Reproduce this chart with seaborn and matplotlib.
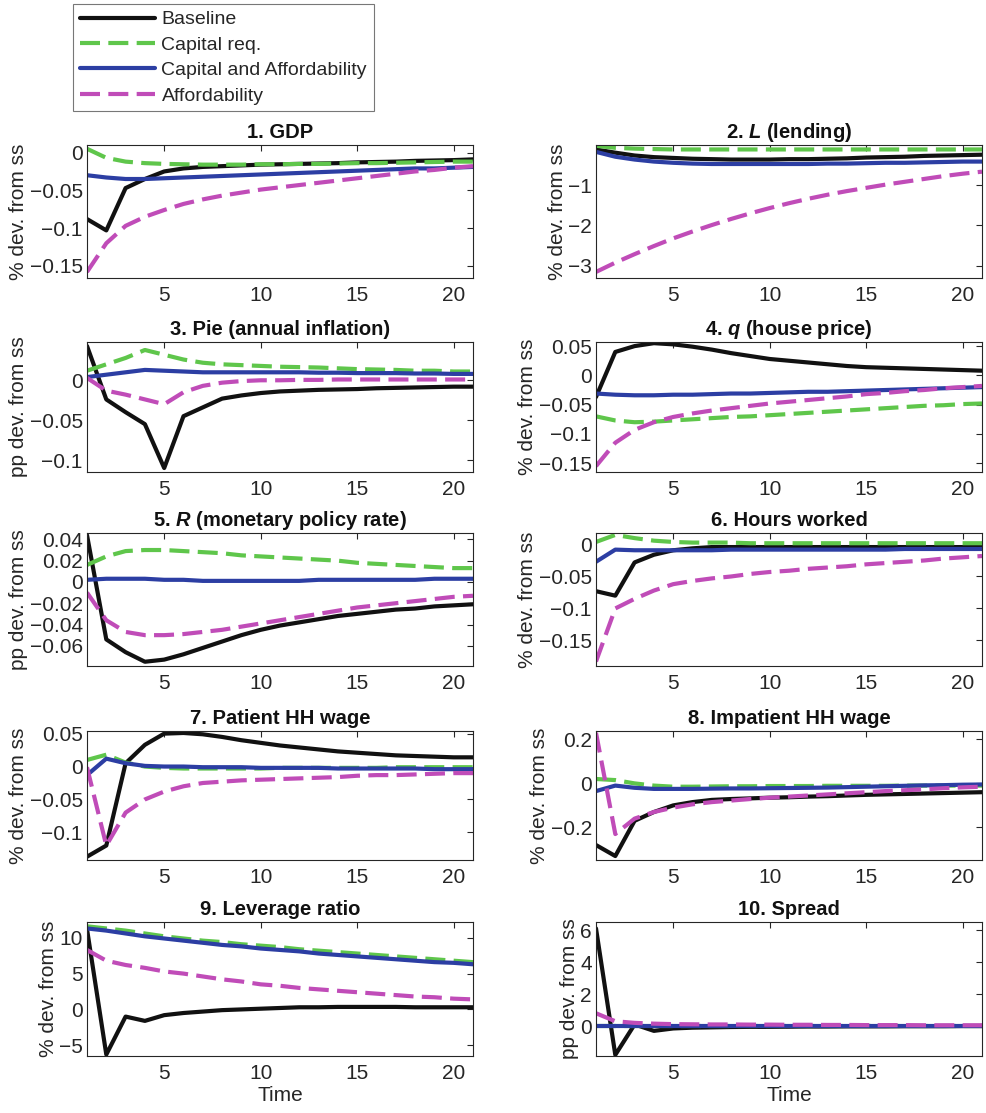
import numpy as np
import pandas as pd
import seaborn as sns
import matplotlib
matplotlib.use("Agg")
import matplotlib.pyplot as plt
from matplotlib.ticker import FuncFormatter, FixedLocator

# ---------------- data ----------------
time = list(range(1, 22))
series_names = ["Baseline", "Capital req.", "Capital and Affordability", "Affordability"]

gdp_base = [-0.088, -0.103, -0.047, -0.035, -0.025, -0.021, -0.019, -0.018, -0.017, -0.016, -0.0155, -0.015, -0.0145, -0.014, -0.013, -0.0125, -0.012, -0.011, -0.0105, -0.010, -0.009]
gdp_cap = [0.005, -0.007, -0.012, -0.014, -0.015, -0.0155, -0.016, -0.016, -0.016, -0.0155, -0.0155, -0.015, -0.015, -0.0145, -0.014, -0.014, -0.0135, -0.013, -0.0125, -0.012, -0.012]
gdp_capaff = [-0.030, -0.033, -0.035, -0.035, -0.034, -0.033, -0.032, -0.031, -0.030, -0.029, -0.028, -0.027, -0.026, -0.025, -0.024, -0.023, -0.022, -0.021, -0.021, -0.020, -0.019]
gdp_aff = [-0.158, -0.120, -0.097, -0.085, -0.076, -0.068, -0.062, -0.057, -0.053, -0.049, -0.046, -0.043, -0.040, -0.037, -0.034, -0.031, -0.028, -0.025, -0.023, -0.020, -0.018]

L_base = [-0.12, -0.20, -0.27, -0.31, -0.33, -0.35, -0.36, -0.37, -0.37, -0.37, -0.36, -0.36, -0.35, -0.34, -0.32, -0.31, -0.30, -0.28, -0.27, -0.26, -0.25]
L_cap = [-0.03, -0.08, -0.10, -0.11, -0.12, -0.12, -0.12, -0.12, -0.12, -0.12, -0.12, -0.12, -0.12, -0.12, -0.12, -0.12, -0.12, -0.12, -0.12, -0.12, -0.12]
L_capaff = [-0.18, -0.30, -0.37, -0.42, -0.45, -0.47, -0.48, -0.48, -0.48, -0.48, -0.48, -0.48, -0.47, -0.47, -0.46, -0.45, -0.45, -0.44, -0.43, -0.42, -0.42]
L_aff = [-3.15, -2.92, -2.71, -2.51, -2.32, -2.15, -1.99, -1.84, -1.70, -1.57, -1.45, -1.34, -1.24, -1.15, -1.07, -0.99, -0.92, -0.85, -0.78, -0.72, -0.67]

pie_base = [0.043, -0.024, -0.040, -0.055, -0.110, -0.045, -0.034, -0.023, -0.019, -0.016, -0.014, -0.013, -0.012, -0.0115, -0.011, -0.010, -0.0095, -0.009, -0.0085, -0.008, -0.008]
pie_cap = [0.012, 0.020, 0.028, 0.038, 0.032, 0.026, 0.022, 0.020, 0.019, 0.018, 0.017, 0.0165, 0.016, 0.015, 0.014, 0.0135, 0.013, 0.012, 0.012, 0.011, 0.011]
pie_capaff = [0.004, 0.007, 0.010, 0.013, 0.012, 0.011, 0.010, 0.010, 0.010, 0.010, 0.010, 0.010, 0.0095, 0.0095, 0.009, 0.009, 0.009, 0.0085, 0.0085, 0.008, 0.008]
pie_aff = [0.003, -0.013, -0.018, -0.024, -0.030, -0.015, -0.007, -0.003, -0.001, 0.000, 0.000, 0.0005, 0.0005, 0.001, 0.001, 0.001, 0.001, 0.001, 0.001, 0.001, 0.001]

q_base = [-0.037, 0.040, 0.050, 0.055, 0.053, 0.049, 0.044, 0.038, 0.033, 0.028, 0.025, 0.022, 0.019, 0.016, 0.014, 0.013, 0.012, 0.011, 0.010, 0.009, 0.008]
q_cap = [-0.070, -0.077, -0.080, -0.079, -0.077, -0.075, -0.073, -0.071, -0.070, -0.068, -0.066, -0.064, -0.062, -0.060, -0.058, -0.056, -0.054, -0.052, -0.051, -0.049, -0.048]
q_capaff = [-0.031, -0.033, -0.034, -0.034, -0.033, -0.033, -0.032, -0.031, -0.031, -0.030, -0.029, -0.028, -0.028, -0.027, -0.026, -0.025, -0.024, -0.023, -0.022, -0.021, -0.020]
q_aff = [-0.155, -0.115, -0.093, -0.080, -0.071, -0.065, -0.060, -0.056, -0.052, -0.048, -0.045, -0.042, -0.039, -0.036, -0.032, -0.030, -0.027, -0.025, -0.022, -0.020, -0.018]

R_base = [0.044, -0.054, -0.066, -0.075, -0.073, -0.068, -0.062, -0.056, -0.050, -0.045, -0.041, -0.038, -0.035, -0.032, -0.030, -0.028, -0.026, -0.025, -0.023, -0.022, -0.021]
R_cap = [0.016, 0.024, 0.029, 0.030, 0.030, 0.029, 0.028, 0.027, 0.025, 0.024, 0.023, 0.022, 0.021, 0.020, 0.018, 0.017, 0.016, 0.015, 0.014, 0.013, 0.013]
R_capaff = [0.002, 0.003, 0.003, 0.003, 0.002, 0.002, 0.001, 0.001, 0.001, 0.001, 0.001, 0.001, 0.002, 0.002, 0.002, 0.002, 0.002, 0.002, 0.003, 0.003, 0.003]
R_aff = [-0.010, -0.036, -0.047, -0.050, -0.050, -0.049, -0.047, -0.045, -0.042, -0.039, -0.036, -0.033, -0.030, -0.027, -0.024, -0.022, -0.020, -0.018, -0.016, -0.014, -0.013]

h_base = [-0.073, -0.080, -0.028, -0.016, -0.009, -0.006, -0.004, -0.004, -0.004, -0.004, -0.004, -0.004, -0.004, -0.004, -0.004, -0.004, -0.004, -0.004, -0.004, -0.004, -0.004]
h_cap = [0.004, 0.015, 0.010, 0.006, 0.004, 0.003, 0.003, 0.003, 0.002, 0.002, 0.002, 0.002, 0.002, 0.002, 0.002, 0.002, 0.002, 0.002, 0.002, 0.002, 0.002]
h_capaff = [-0.027, -0.008, -0.009, -0.009, -0.009, -0.009, -0.009, -0.008, -0.008, -0.008, -0.008, -0.008, -0.008, -0.008, -0.008, -0.008, -0.007, -0.007, -0.007, -0.007, -0.007]
h_aff = [-0.183, -0.100, -0.085, -0.072, -0.062, -0.057, -0.053, -0.050, -0.046, -0.043, -0.041, -0.038, -0.036, -0.034, -0.031, -0.029, -0.027, -0.025, -0.022, -0.020, -0.018]

pw_base = [-0.137, -0.120, 0.005, 0.033, 0.050, 0.051, 0.049, 0.045, 0.040, 0.036, 0.032, 0.029, 0.026, 0.023, 0.021, 0.019, 0.017, 0.016, 0.015, 0.014, 0.014]
pw_cap = [0.010, 0.018, 0.006, 0.000, -0.002, -0.003, -0.003, -0.003, -0.003, -0.003, -0.002, -0.002, -0.002, -0.002, -0.002, -0.002, -0.001, -0.001, -0.001, -0.001, -0.001]
pw_capaff = [-0.013, 0.012, 0.005, 0.001, 0.000, 0.000, -0.001, -0.001, -0.001, -0.002, -0.002, -0.002, -0.002, -0.003, -0.003, -0.003, -0.003, -0.003, -0.004, -0.004, -0.004]
pw_aff = [-0.001, -0.120, -0.070, -0.050, -0.038, -0.030, -0.025, -0.023, -0.021, -0.020, -0.019, -0.018, -0.017, -0.016, -0.014, -0.013, -0.013, -0.012, -0.011, -0.010, -0.010]

iw_base = [-0.28, -0.33, -0.17, -0.13, -0.10, -0.085, -0.075, -0.071, -0.068, -0.065, -0.063, -0.060, -0.058, -0.055, -0.052, -0.050, -0.048, -0.046, -0.044, -0.042, -0.040]
iw_cap = [0.020, 0.015, 0.000, -0.010, -0.015, -0.015, -0.014, -0.013, -0.013, -0.012, -0.012, -0.012, -0.011, -0.011, -0.011, -0.011, -0.010, -0.010, -0.010, -0.010, -0.010]
iw_capaff = [-0.035, -0.010, -0.020, -0.025, -0.025, -0.025, -0.024, -0.023, -0.023, -0.022, -0.021, -0.020, -0.019, -0.017, -0.015, -0.013, -0.011, -0.009, -0.008, -0.006, -0.005]
iw_aff = [0.23, -0.23, -0.16, -0.13, -0.11, -0.095, -0.085, -0.078, -0.071, -0.065, -0.060, -0.055, -0.050, -0.045, -0.040, -0.035, -0.031, -0.027, -0.022, -0.018, -0.015]

lev_base = [11.2, -6.3, -1.0, -1.6, -0.8, -0.5, -0.3, -0.1, 0.0, 0.1, 0.2, 0.3, 0.3, 0.35, 0.35, 0.35, 0.35, 0.3, 0.3, 0.3, 0.3]
lev_cap = [11.6, 11.3, 11.0, 10.6, 10.2, 9.9, 9.6, 9.4, 9.1, 8.9, 8.7, 8.4, 8.2, 8.0, 7.8, 7.6, 7.4, 7.2, 7.0, 6.8, 6.6]
lev_capaff = [11.3, 11.0, 10.6, 10.2, 9.9, 9.6, 9.3, 9.0, 8.8, 8.5, 8.3, 8.1, 7.8, 7.6, 7.4, 7.2, 7.0, 6.8, 6.6, 6.5, 6.3]
lev_aff = [8.3, 6.8, 6.2, 5.8, 5.3, 5.0, 4.6, 4.2, 3.9, 3.5, 3.3, 3.0, 2.8, 2.6, 2.4, 2.2, 2.0, 1.8, 1.7, 1.5, 1.4]

sp_base = [6.1, -1.8, 0.1, -0.3, -0.15, -0.1, -0.08, -0.06, -0.05, -0.05, -0.04, -0.03, -0.03, -0.02, -0.02, -0.02, -0.01, -0.01, -0.01, 0.0, 0.0]
sp_cap = [0.02] * 21
sp_capaff = [0.0] * 21
sp_aff = [0.8, 0.3, 0.2, 0.15, 0.12, 0.11, 0.1, 0.1, 0.09, 0.09, 0.08, 0.08, 0.07, 0.07, 0.06, 0.06, 0.06, 0.05, 0.05, 0.05, 0.05]

titles = ["1. GDP", "2. $\\mathbfit{L}$ (lending)", "3. Pie (annual inflation)", "4. $\\mathbfit{q}$ (house price)",
          "5. $\\mathbfit{R}$ (monetary policy rate)", "6. Hours worked", "7. Patient HH wage",
          "8. Impatient HH wage", "9. Leverage ratio", "10. Spread"]
ylabels = ["% dev. from ss", "% dev. from ss", "pp dev. from ss", "% dev. from ss", "pp dev. from ss",
           "% dev. from ss", "% dev. from ss", "% dev. from ss", "% dev. from ss", "pp dev. from ss"]
panel_values = [
    [gdp_base, gdp_cap, gdp_capaff, gdp_aff],
    [L_base, L_cap, L_capaff, L_aff],
    [pie_base, pie_cap, pie_capaff, pie_aff],
    [q_base, q_cap, q_capaff, q_aff],
    [R_base, R_cap, R_capaff, R_aff],
    [h_base, h_cap, h_capaff, h_aff],
    [pw_base, pw_cap, pw_capaff, pw_aff],
    [iw_base, iw_cap, iw_capaff, iw_aff],
    [lev_base, lev_cap, lev_capaff, lev_aff],
    [sp_base, sp_cap, sp_capaff, sp_aff],
]
ylims = [(-0.166, 0.010), (-3.3, -0.01), (-0.115, 0.048), (-0.165, 0.057), (-0.079, 0.046),
         (-0.19, 0.018), (-0.142, 0.054), (-0.348, 0.238), (-6.5, 12.2), (-1.87, 6.5)]
yticks = [[-0.15, -0.1, -0.05, 0], [-3, -2, -1], [-0.1, -0.05, 0], [-0.15, -0.1, -0.05, 0, 0.05],
          [-0.06, -0.04, -0.02, 0, 0.02, 0.04], [-0.15, -0.1, -0.05, 0], [-0.1, -0.05, 0, 0.05],
          [-0.2, 0, 0.2], [-5, 0, 5, 10], [0, 2, 4, 6]]
xticks = [5, 10, 15, 20]

# ---------------- style ----------------
sns.set_theme(style="white")
plt.rcParams["font.family"] = ["Liberation Sans", "DejaVu Sans"]
plt.rcParams["mathtext.fontset"] = "custom"
plt.rcParams["mathtext.rm"] = "Liberation Sans:bold"
plt.rcParams["mathtext.bfit"] = "Liberation Sans:italic:bold"
plt.rcParams["axes.edgecolor"] = "#262626"
plt.rcParams["axes.linewidth"] = 0.8

LW = 3.0
palette = {"Baseline": "#111111", "Capital req.": "#5fc64b",
           "Capital and Affordability": "#2c3ea3", "Affordability": "#c04cb8"}
dashes = {"Baseline": "", "Capital req.": (4.8, 2.0),
          "Capital and Affordability": "", "Affordability": (4.8, 2.0)}

fig = plt.figure(figsize=(9.86, 11.13), dpi=100)
W, H = 986, 1113
col_left = [87, 596]
col_w = 386
rows = [(145, 278), (342, 472), (533, 666), (731, 860), (922, 1056)]

FS = 15
fmt = FuncFormatter(lambda v, p: f"{v:g}".replace("-", "\u2212"))
handles = labels = None
for i in range(10):
    r, c = divmod(i, 2)
    top, bot = rows[r]
    ax = fig.add_axes([col_left[c] / W, 1 - bot / H, col_w / W, (bot - top) / H])
    vals = panel_values[i]
    df = pd.DataFrame({
        "Time": time * 4,
        "value": sum(vals, []),
        "series": sum([[n] * len(time) for n in series_names], []),
    })
    sns.lineplot(data=df, x="Time", y="value", hue="series", style="series",
                 hue_order=series_names, style_order=series_names,
                 palette=palette, dashes=dashes, linewidth=LW, ax=ax,
                 legend=(i == 0))
    if i == 0:
        handles, labels = ax.get_legend_handles_labels()
        ax.get_legend().remove()
    ax.set_xlim(1, 21)
    ax.set_ylim(*ylims[i])
    ax.xaxis.set_major_locator(FixedLocator(xticks))
    ax.yaxis.set_major_locator(FixedLocator(yticks[i]))
    ax.xaxis.set_major_formatter(fmt)
    ax.yaxis.set_major_formatter(fmt)
    ax.tick_params(direction="in", top=True, right=True, length=4, width=0.8,
                   labelsize=FS, colors="#262626", pad=3)
    ax.tick_params(axis="x", pad=6)
    ax.set_title(titles[i], fontsize=14.5, fontweight="bold", pad=5, color="#111111")
    ax.set_ylabel(ylabels[i], fontsize=FS, color="#262626", labelpad=1)
    if r == 4:
        ax.set_xlabel("Time", fontsize=FS, color="#262626", labelpad=2)
    else:
        ax.set_xlabel("")
    for s in ax.spines.values():
        s.set_visible(True)

leg = fig.legend(handles, labels, loc="upper left", bbox_to_anchor=(73 / W, 1 - 4 / H),
                 frameon=True, fancybox=False, fontsize=14, handlelength=3.85,
                 borderaxespad=0, labelspacing=0.4, handletextpad=0.35, borderpad=0.35)
leg.get_frame().set_edgecolor("#555555")
leg.get_frame().set_linewidth(0.8)
for l in leg.get_lines():
    l.set_linewidth(LW)

fig.savefig("out.png", dpi=100)
